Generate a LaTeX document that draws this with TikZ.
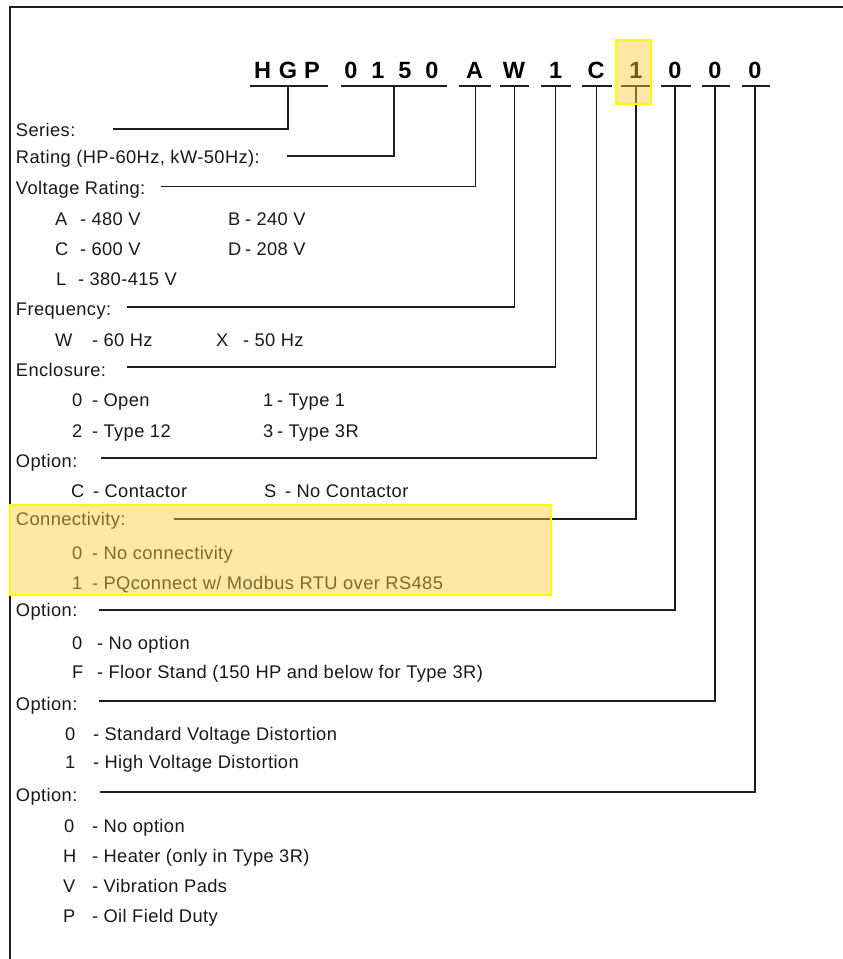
\documentclass[tikz,border=0pt]{standalone}
\usepackage{fontspec}
\setmainfont{Liberation Sans}
\newfontfamily\lblfont[LetterSpace=2.2]{Liberation Sans}
\begin{document}
\begin{tikzpicture}[x=1pt,y=-1pt,
  lbl/.style={anchor=base west,inner sep=0pt,outer sep=0pt,text=txt,font=\lblfont\fontsize{18.3}{20}\selectfont},
  code/.style={anchor=base,inner sep=0pt,outer sep=0pt,text=black,font=\fontsize{23.5}{26}\bfseries\selectfont},
  thin leader/.style={draw=ln,line width=1.1pt},
  thick leader/.style={draw=ln,line width=2.2pt},
  uline/.style={draw=ln,line width=1.6pt},
  frame/.style={draw=ln,line width=1.6pt},
  hl fill/.style={fill=hlc,fill opacity=0.45},
  hl border/.style={draw=hlb,line width=2pt}]
\definecolor{txt}{RGB}{25,25,25}
\definecolor{ln}{RGB}{30,30,30}
\definecolor{hlc}{RGB}{255,205,60}
\definecolor{hlb}{RGB}{255,250,0}
\useasboundingbox (0,0) rectangle (843,959);
\fill[white] (0,0) rectangle (843,959);
% frame
\coordinate (fTL) at (10,7);
\coordinate (fTR) at (843,7);
\coordinate (fBL) at (10,959);
\draw[frame] (fTR) -- (fTL) -- (fBL);

% code letters
\foreach \ch/\xx/\nm in {H/262.5/c1,G/288/c2,P/312/c3,0/351/c4,1/378/c5,5/405/c6,0/432/c7,A/474.5/c8,W/514/c9,1/555.7/c10,C/596/c11,1/636/c12,0/675/c13,0/715/c14,0/755/c15}
  \node[code] (\nm) at (\xx,78) {\ch};

% underlines
\foreach \a/\b/\nm in {250/328/u1,341/447/u2,459/491/u3,500/529/u4,541/571/u5,582/612/u6,621/650/u7,661/691/u8,702/730/u9,742/770/u10}
  {\coordinate (\nm a) at (\a,86); \coordinate (\nm b) at (\b,86); \draw[uline] (\nm a) -- (\nm b);}

% vertical tops
\coordinate (v1) at (288,86);
\coordinate (v2) at (393.6,86);
\coordinate (v3) at (475.5,86);
\coordinate (v4) at (514.5,86);
\coordinate (v5) at (555.7,86);
\coordinate (v6) at (596.5,86);
\coordinate (v7) at (636,86);
\coordinate (v8) at (675,86);
\coordinate (v9) at (715,86);
\coordinate (v10) at (755,86);

% labels
\node[lbl] (lSeries) at (16,136) {Series:};
\node[lbl] (lRating) at (16,163) {Rating (HP-60Hz, kW-50Hz):};
\node[lbl] (lVolt) at (16,194) {Voltage Rating:};
\node[lbl] (kA) at (55,225) {A};   \node[lbl] (dA) at (80,225) {- 480 V};
\node[lbl] (kB) at (228,225) {B};  \node[lbl] (dB) at (245,225) {- 240 V};
\node[lbl] (kC) at (55,255) {C};   \node[lbl] (dC) at (80,255) {- 600 V};
\node[lbl] (kD) at (228,255) {D};  \node[lbl] (dD) at (245,255) {- 208 V};
\node[lbl] (kL) at (56,285) {L};   \node[lbl] (dL) at (78,285) {- 380-415 V};
\node[lbl] (lFreq) at (16,315) {Frequency:};
\node[lbl] (kW) at (55,346) {W};   \node[lbl] (dW) at (92,346) {- 60 Hz};
\node[lbl] (kX) at (216,346) {X};  \node[lbl] (dX) at (243,346) {- 50 Hz};
\node[lbl] (lEncl) at (16,376) {Enclosure:};
\node[lbl] (k0e) at (72,406) {0};  \node[lbl] (d0e) at (92,406) {- Open};
\node[lbl] (k1e) at (263,406) {1}; \node[lbl] (d1e) at (277,406) {- Type 1};
\node[lbl] (k2e) at (72,437) {2};  \node[lbl] (d2e) at (92,437) {- Type 12};
\node[lbl] (k3e) at (263,437) {3}; \node[lbl] (d3e) at (277,437) {- Type 3R};
\node[lbl] (lOpt1) at (16,467) {Option:};
\node[lbl] (kCo) at (71,497) {C};  \node[lbl] (dCo) at (93,497) {- Contactor};
\node[lbl] (kS) at (264,497) {S};  \node[lbl] (dS) at (285,497) {- No Contactor};
\node[lbl] (lConn) at (16,525) {Connectivity:};
\node[lbl] (k0c) at (72,559) {0};  \node[lbl] (d0c) at (92,559) {- No connectivity};
\node[lbl] (k1c) at (72,589) {1};  \node[lbl] (d1c) at (92,589) {- PQconnect w/ Modbus RTU over RS485};
\node[lbl] (lOpt2) at (16,616) {Option:};
\node[lbl] (k0o) at (72,649) {0};  \node[lbl] (d0o) at (97,649) {- No option};
\node[lbl] (kF) at (72,678) {F};   \node[lbl] (dF) at (97,678) {- Floor Stand (150 HP and below for Type 3R)};
\node[lbl] (lOpt3) at (16,710) {Option:};
\node[lbl] (k0d) at (65,740) {0};  \node[lbl] (d0d) at (93,740) {- Standard Voltage Distortion};
\node[lbl] (k1d) at (65,768) {1};  \node[lbl] (d1d) at (93,768) {- High Voltage Distortion};
\node[lbl] (lOpt4) at (16,801) {Option:};
\node[lbl] (k0f) at (64,832) {0};  \node[lbl] (d0f) at (92,832) {- No option};
\node[lbl] (kH) at (63,862) {H};   \node[lbl] (dH) at (92,862) {- Heater (only in Type 3R)};
\node[lbl] (kV) at (63,892) {V};   \node[lbl] (dV) at (92,892) {- Vibration Pads};
\node[lbl] (kP) at (63,922) {P};   \node[lbl] (dP) at (92,922) {- Oil Field Duty};

% leader starts
\coordinate (sSeries) at (113,128.7);
\coordinate (sRating) at (287,155.7);
\coordinate (sVolt) at (161,186.7);
\coordinate (sFreq) at (127,307);
\coordinate (sEncl) at (127,367);
\coordinate (sOpt1) at (101,458);
\coordinate (sConn) at (174,519);
\coordinate (sOpt2) at (99,610);
\coordinate (sOpt3) at (99,701);
\coordinate (sOpt4) at (100,792);

\draw[thick leader] (sSeries) -| (v1);
\draw[thick leader] (sRating) -| (v2);
\draw[thin leader] (sVolt) -| (v3);
\draw[thin leader] (sFreq) -| (v4);
\draw[thin leader] (sEncl) -| (v5);
\draw[thin leader] (sOpt1) -| (v6);
\draw[thin leader] (sConn) -| (v7);
\draw[thin leader] (sOpt2) -| (v8);
\draw[thick leader] (sOpt3) -| (v9);
\draw[thin leader] (sOpt4) -| (v10);

% highlights (drawn over text)
\coordinate (hA) at (615.5,39.5);
\coordinate (hB) at (651,104);
\fill[hl fill] (hA) rectangle (hB);
\draw[hl border] (hA) rectangle (hB);
\coordinate (bA) at (10,505);
\coordinate (bB) at (550.5,595);
\fill[hl fill] (bA) rectangle (bB);
\draw[hl border] (bA) rectangle (bB);
\end{tikzpicture}
\end{document}
